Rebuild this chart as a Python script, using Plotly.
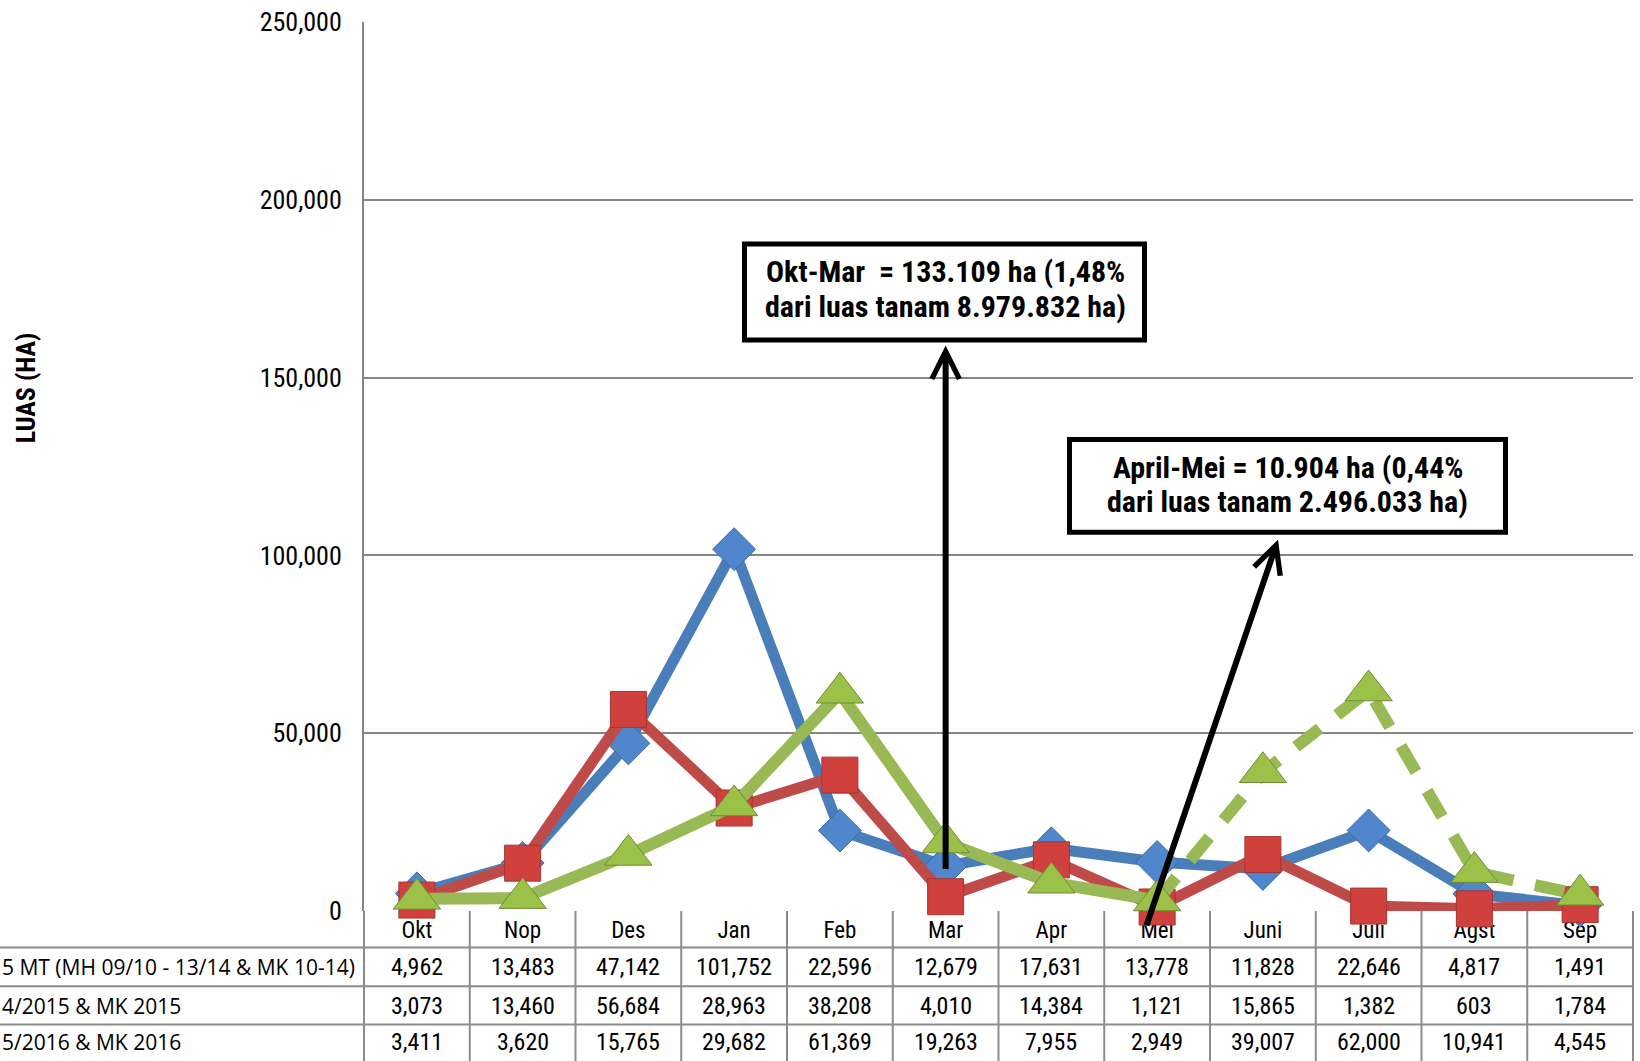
import plotly.graph_objects as go

categories = ["Okt", "Nop", "Des", "Jan", "Feb", "Mar", "Apr", "Mei", "Juni", "Juli", "Agst", "Sep"]
row_labels = ["5 MT (MH 09/10 - 13/14 & MK 10-14)", "4/2015 & MK 2015", "5/2016 & MK 2016"]
rata_5mt = [4962, 13483, 47142, 101752, 22596, 12679, 17631, 13778, 11828, 22646, 4817, 1491]
mt_2015 = [3073, 13460, 56684, 28963, 38208, 4010, 14384, 1121, 15865, 1382, 603, 1784]
mt_2016 = [3411, 3620, 15765, 29682, 61369, 19263, 7955, 2949, 39007, 62000, 10941, 4545]
y_ticks = [0, 50000, 100000, 150000, 200000, 250000]
note_1 = ["Okt-Mar  = 133.109 ha (1,48%", "dari luas tanam 8.979.832 ha)"]
note_2 = ["April-Mei = 10.904 ha (0,44%", "dari luas tanam 2.496.033 ha)"]
y_title = "LUAS (HA)"

W, H = 1640, 1061
L, R, T, B = 364, 1633, 18, 911
PW, PH = R - L, B - T
Y_MAX = 250000

def px_x(px):
    return (px - L) / PW

def px_y(py):
    return (B - py) / PH

NARROW = "Liberation Sans Narrow, Arial Narrow, Roboto Condensed, sans-serif"
BLUE, RED, GREEN = "#4a7ebb", "#be4b48", "#98b954"

fig = go.Figure()

fig.add_trace(go.Scatter(
    x=categories, y=rata_5mt, mode="lines+markers", cliponaxis=False,
    line=dict(color=BLUE, width=11),
    marker=dict(symbol="diamond", size=33, color="#4f86cc", line=dict(color="#3a6aa6", width=1)),
))
fig.add_trace(go.Scatter(
    x=categories, y=mt_2015, mode="lines+markers", cliponaxis=False,
    line=dict(color=RED, width=11),
    marker=dict(symbol="square", size=36, color="#d0403d", line=dict(color="#a33532", width=1)),
))
split = categories.index("Mei")
solid_part = [v if i <= split else None for i, v in enumerate(mt_2016)]
dash_part = [v if i >= split else None for i, v in enumerate(mt_2016)]
fig.add_trace(go.Scatter(
    x=categories, y=dash_part, mode="lines", cliponaxis=False,
    line=dict(color=GREEN, width=12, dash="30px,22px"),
))
fig.add_trace(go.Scatter(
    x=categories, y=solid_part, mode="lines", cliponaxis=False,
    line=dict(color=GREEN, width=12),
))
fig.add_trace(go.Scatter(
    x=categories, y=mt_2016, mode="markers", cliponaxis=False,
    marker=dict(symbol="triangle-up", size=41, color="#9cc148", line=dict(color="#6f8c34", width=1)),
))

shapes = []
grid_c = "#8c8c8c"
for i in range(len(categories) + 1):
    shapes.append(dict(type="line", xref="paper", yref="paper", x0=i / 12, x1=i / 12,
                       y0=0, y1=px_y(H + 10), line=dict(color=grid_c, width=2), layer="below"))
for py in [947.7, 986.7, 1025]:
    shapes.append(dict(type="line", xref="paper", yref="paper", x0=px_x(0), x1=1,
                       y0=px_y(py), y1=px_y(py), line=dict(color=grid_c, width=2), layer="below"))

for (x0, x1, y0, y1) in [(744.5, 1144.5, 241, 337.5), (1069.5, 1505.5, 437.5, 530.5)]:
    shapes.append(dict(type="rect", xref="paper", yref="paper", x0=px_x(x0), x1=px_x(x1),
                       y0=px_y(y1), y1=px_y(y0), line=dict(color="black", width=5),
                       fillcolor="white", layer="above"))

annotations = []
row_centers = [967, 1006, 1043]
for r, vals in enumerate([rata_5mt, mt_2015, mt_2016]):
    annotations.append(dict(x=px_x(0), y=px_y(row_centers[r]),
                            xref="paper", yref="paper", xanchor="left", yanchor="middle",
                            text=row_labels[r], showarrow=False,
                            font=dict(family="Open Sans, Noto Sans, sans-serif", size=21, color="black")))
    for c, v in zip(categories, vals):
        annotations.append(dict(x=c, y=px_y(row_centers[r]), xref="x", yref="paper",
                                xanchor="center", yanchor="middle", text=f"{v:,}", showarrow=False,
                                font=dict(family=NARROW, size=24, color="black")))

annotations.append(dict(x=px_x(26), y=px_y(386), xref="paper", yref="paper", text=f"<b>{y_title}</b>",
                        textangle=-90, showarrow=False, xanchor="center", yanchor="middle",
                        font=dict(family=NARROW, size=26, color="black")))

annotations.append(dict(x="Mar", y=px_y(343), xref="x", yref="paper", text="", showarrow=True,
                        ax=0, ay=868 - 343, arrowhead=5, arrowsize=0.9, arrowwidth=6, arrowcolor="black"))
annotations.append(dict(x=px_x(1278), y=px_y(538), xref="paper", yref="paper", text="", showarrow=True,
                        ax=1146 - 1278, ay=925 - 538, arrowhead=5, arrowsize=0.9, arrowwidth=6, arrowcolor="black"))

for lines, cx, ys in [(note_1, 945, [269, 303.5]), (note_2, 1287.5, [465.5, 500])]:
    for txt, yy in zip(lines, ys):
        annotations.append(dict(x=px_x(cx), y=px_y(yy), xref="paper", yref="paper", text=f"<b>{txt}</b>",
                                showarrow=False, xanchor="center", yanchor="middle",
                                font=dict(family=NARROW, size=30, color="black")))

fig.update_layout(
    width=W, height=H,
    margin=dict(l=L, r=W - R, t=T, b=H - B),
    paper_bgcolor="white", plot_bgcolor="white",
    showlegend=False,
    shapes=shapes, annotations=annotations,
    xaxis=dict(type="category", range=[-0.5, 11.5], showgrid=False, zeroline=False, showline=False,
               ticks="", layer="below traces", ticklabelstandoff=3,
               tickfont=dict(family=NARROW, size=23, color="black")),
    yaxis=dict(range=[0, Y_MAX], tickvals=y_ticks, tickformat=",d", showgrid=True,
               gridcolor="#868686", gridwidth=1.5, zeroline=False, showline=True, linecolor="#868686",
               linewidth=2, ticks="", layer="below traces", ticklabelstandoff=15,
               tickfont=dict(family=NARROW, size=26, color="black")),
)

fig.write_html("out.html", config={"displayModeBar": False},
               post_script="document.body.style.margin='0';document.body.style.overflow='hidden';")
